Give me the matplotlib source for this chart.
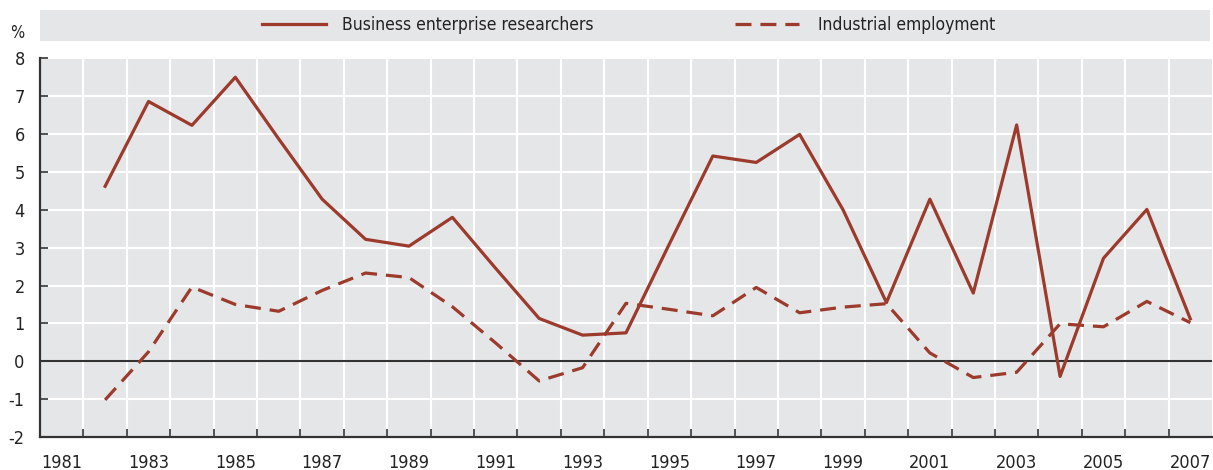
import matplotlib
matplotlib.use("Agg")
import matplotlib.pyplot as plt
from matplotlib.patches import Rectangle
import numpy as np

plt.rcParams['font.family'] = ['Liberation Sans Narrow', 'DejaVu Sans']
plt.rcParams['font.stretch'] = 'condensed'
plt.rcParams['axes.unicode_minus'] = False

years = list(range(1982, 2008))
researchers = [4.62, 6.86, 6.23, 7.50, 5.87, 4.28, 3.22, 3.04, 3.80, 2.45,
               1.13, 0.69, 0.75, 3.10, 5.42, 5.25, 5.99, 4.00, 1.55, 4.28,
               1.80, 6.24, -0.40, 2.72, 4.01, 1.12]
employment = [-1.02, 0.25, 1.96, 1.50, 1.32, 1.87, 2.33, 2.21, 1.44, 0.48,
              -0.52, -0.17, 1.53, 1.37, 1.20, 1.95, 1.28, 1.43, 1.52, 0.22,
              -0.43, -0.29, 0.99, 0.91, 1.58, 1.02]
label_years = list(range(1981, 2008, 2))
series_names = ["Business enterprise researchers", "Industrial employment"]

red = "#9C3A2C"
grey = "#E5E6E8"

fig = plt.figure(figsize=(12.13, 4.70), dpi=100)
ax = fig.add_axes([40 / 1213, 33 / 470, 1172 / 1213, 378.7 / 470])
ax.set_facecolor(grey)

l1, = ax.plot(years, researchers, color=red, lw=2.3, zorder=3)
l2, = ax.plot(years, employment, color=red, lw=2.3, dashes=(5, 2.8), zorder=3)

ax.set_xlim(1980.5, 2007.5)
ax.set_ylim(-2, 8)
ax.set_yticks(range(-2, 9))
ax.set_xticks(np.arange(1981.5, 2007.5, 1))
ax.set_xticklabels([])
ax.set_xticks(label_years, minor=True)
ax.set_xticklabels([str(y) for y in label_years], minor=True)

ax.grid(True, which='major', color='white', lw=1.5, zorder=1)
ax.set_axisbelow(True)
ax.axhline(0, color='#333333', lw=1.5, zorder=2)

for s in ['top', 'right']:
    ax.spines[s].set_visible(False)
for s in ['left', 'bottom']:
    ax.spines[s].set_color('#333333')
    ax.spines[s].set_linewidth(1.6)

ax.tick_params(axis='y', which='major', direction='in', length=6, width=1.2,
               color='#333333', pad=11, labelsize=13, labelcolor='#222222')
ax.tick_params(axis='x', which='major', direction='in', length=6, width=1.2,
               color='#333333')
ax.tick_params(axis='x', which='minor', length=0, pad=12, labelsize=13,
               labelcolor='#222222')

# legend strip across the top
fig.patches.append(Rectangle((40 / 1213, 1 - 41 / 470), 1170 / 1213, 31 / 470,
                             transform=fig.transFigure, facecolor=grey,
                             edgecolor='none', zorder=0))
leg_y = 1 - 25.5 / 470
fig.legend([l1], [series_names[0]], loc='center left',
           bbox_to_anchor=(262 / 1213, leg_y), frameon=False,
           fontsize=12.5, handlelength=3.7, handletextpad=0.9,
           borderpad=0, borderaxespad=0, labelcolor='#222222')
fig.legend([l2], [series_names[1]], loc='center left',
           bbox_to_anchor=(735 / 1213, leg_y), frameon=False,
           fontsize=12.5, handlelength=3.7, handletextpad=1.1,
           borderpad=0, borderaxespad=0, labelcolor='#222222')

fig.text(10 / 1213, 1 - 33 / 470, "%", fontsize=12, color='#222222',
         va='center', ha='left')

fig.savefig("out.png", dpi=100)
